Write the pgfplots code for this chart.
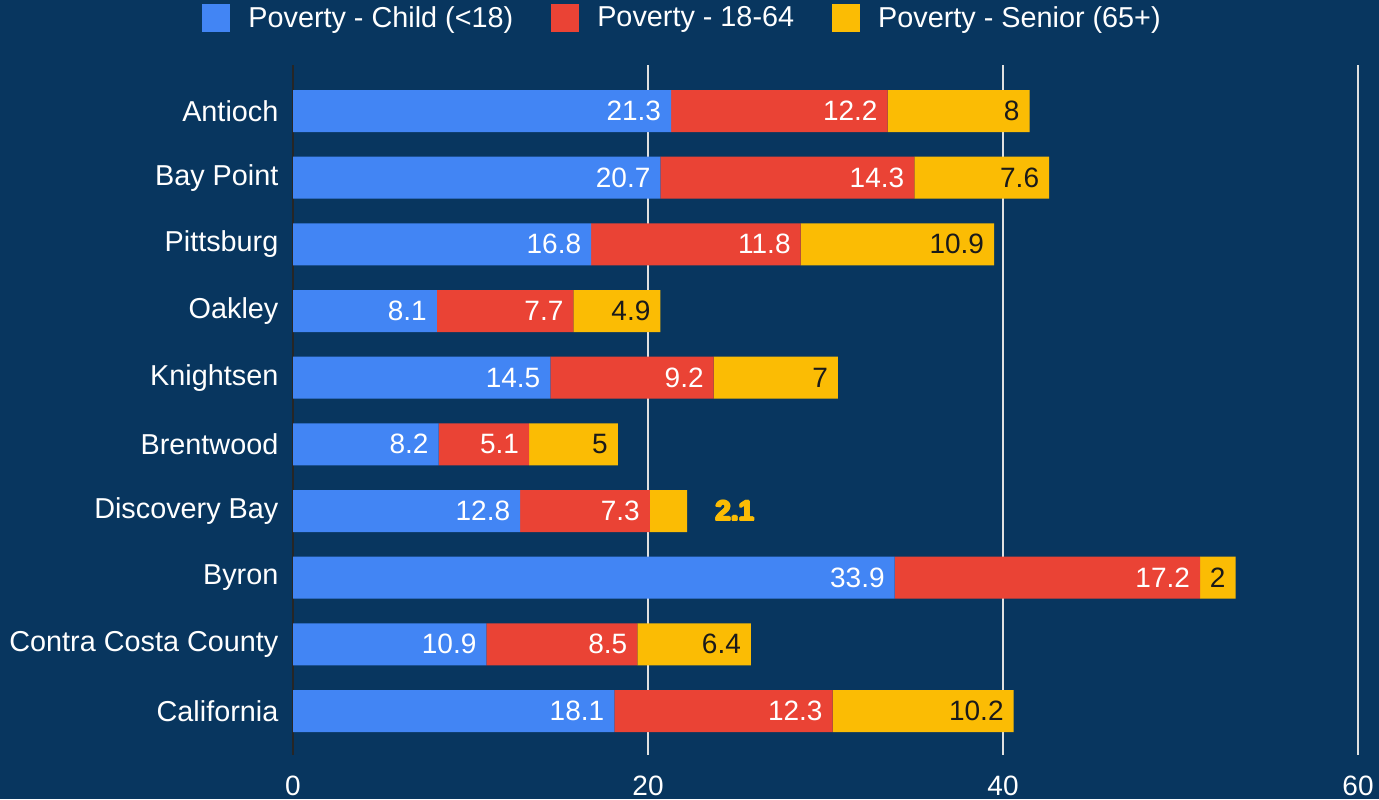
\documentclass[border=0pt]{standalone}
\usepackage{pgfplots}
\usepackage{pgfplotstable}
\usepackage{fontspec}
\setmainfont{Liberation Sans}
\pgfplotsset{compat=1.18}
\definecolor{bg}{HTML}{08365F}
\definecolor{cblue}{HTML}{4285F4}
\definecolor{cred}{HTML}{EA4335}
\definecolor{cyel}{HTML}{FBBC04}
\definecolor{dtext}{HTML}{1A1A1A}

\pgfplotstableread{
idx child adult senior slab
0 21.3 12.2 8    8
1 20.7 14.3 7.6  7.6
2 16.8 11.8 10.9 10.9
3 8.1  7.7  4.9  4.9
4 14.5 9.2  7    7
5 8.2  5.1  5    5
6 12.8 7.3  2.1  {}
7 33.9 17.2 2    2
8 10.9 8.5  6.4  6.4
9 18.1 12.3 10.2 10.2
}\datatable

\tikzset{outl/.style={anchor=west, inner sep=0pt, text=cyel, font=\fontsize{14}{17}\selectfont\bfseries}}

\begin{document}
\begin{tikzpicture}[font=\fontsize{14}{17}\selectfont]
\path[use as bounding box, fill=bg] (0,0) rectangle (689.5pt,-399.5pt);
\begin{axis}[
  at={(146.5pt,-32.5pt)}, anchor=north west,
  scale only axis, width=532.5pt, height=345pt,
  xbar stacked, bar width=21pt,
  xmin=0, xmax=60,
  ymin=-0.69, ymax=9.66, y dir=reverse,
  xtick={0,20,40,60},
  ytick={0,...,9},
  yticklabels={Antioch,Bay Point,Pittsburg,Oakley,Knightsen,Brentwood,Discovery Bay,Byron,Contra Costa County,California},
  /pgf/number format/assume math mode=true,
  axis line style={draw=none},
  major tick length=0pt,
  xmajorgrids, major grid style={color=white!88!black, line width=0.8pt},
  extra x ticks={0}, extra x tick labels={},
  extra x tick style={major grid style={color=black!85, line width=0.8pt}},
  tick label style={text=white},
  xticklabel style={yshift=-7pt},
  yticklabel style={xshift=-3.8pt, font=\fontsize{14.4}{17}\selectfont},
  point meta=explicit symbolic,
  nodes near coords,
  nodes near coords style={anchor=east, xshift={\hs pt-1.5pt}},
  legend columns=3,
  legend style={at={(0.3667,1.068)}, anchor=center, draw=none, fill=none,
    text=white, column sep=0pt, font=\fontsize{14.4}{17}\selectfont,
    /tikz/every odd column/.append style={column sep=7pt},
    /tikz/every even column/.append style={column sep=17pt}},
  legend image code/.code={\fill[#1, draw=none] (0pt,-7pt) rectangle (14pt,7pt);},
]
\addplot[fill=cblue, draw=none, nodes near coords style={text=white},
  visualization depends on={\thisrow{child}*4.4375 \as \hs}]
  table[x=child, y=idx, meta=child] {\datatable};
\addlegendentry{Poverty - Child (<18)}
\addplot[fill=cred, draw=none, nodes near coords style={text=white},
  visualization depends on={\thisrow{adult}*4.4375 \as \hs}]
  table[x=adult, y=idx, meta=adult] {\datatable};
\addlegendentry{Poverty - 18-64}
\addplot[fill=cyel, draw=none, nodes near coords style={text=dtext},
  visualization depends on={\thisrow{senior}*4.4375 \as \hs}]
  table[x=senior, y=idx, meta=slab] {\datatable};
\addlegendentry{Poverty - Senior (65+)}
% outside label for Discovery Bay (2.1)
\node[outl, xshift=0.5pt] at (axis cs:23.77,6) {2.1};
\node[outl, xshift=-0.5pt] at (axis cs:23.77,6) {2.1};
\node[outl, yshift=0.5pt] at (axis cs:23.77,6) {2.1};
\node[outl, yshift=-0.5pt] at (axis cs:23.77,6) {2.1};
\node[outl, xshift=0.35pt, yshift=0.35pt] at (axis cs:23.77,6) {2.1};
\node[outl, xshift=-0.35pt, yshift=0.35pt] at (axis cs:23.77,6) {2.1};
\node[outl, xshift=0.35pt, yshift=-0.35pt] at (axis cs:23.77,6) {2.1};
\node[outl, xshift=-0.35pt, yshift=-0.35pt] at (axis cs:23.77,6) {2.1};
\node[anchor=west, inner sep=0pt, text=white, font=\fontsize{14}{17}\selectfont\bfseries] at (axis cs:23.77,6) {2.1};
\end{axis}
\end{tikzpicture}
\end{document}
